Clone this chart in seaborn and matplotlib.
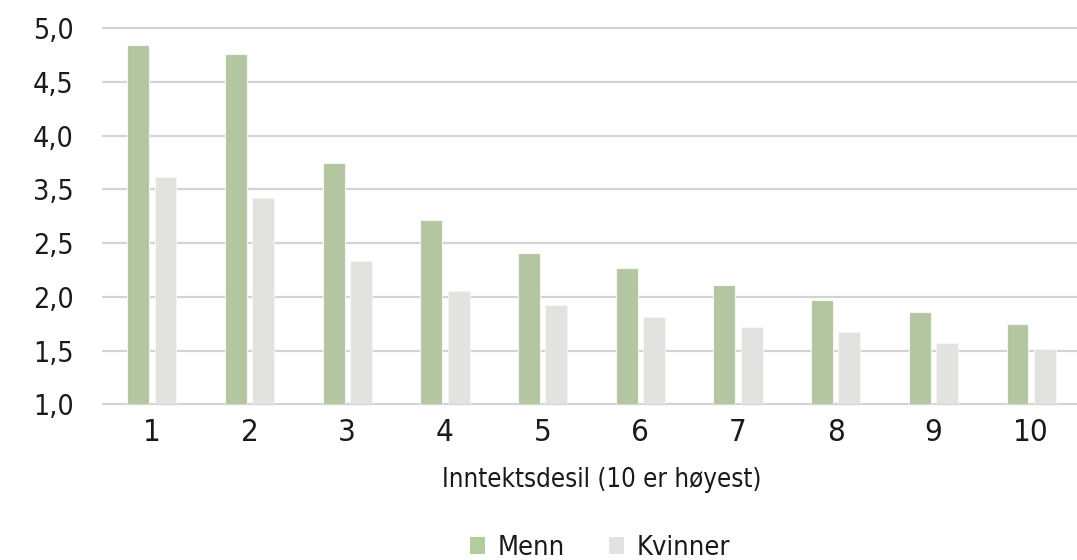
import matplotlib
matplotlib.use("Agg")
import matplotlib.pyplot as plt
import seaborn as sns
import pandas as pd
from matplotlib.patches import Patch

# Income deciles and values per group
deciles = ["1", "2", "3", "4", "5", "6", "7", "8", "9", "10"]
menn = [4.34, 4.26, 3.24, 2.71, 2.41, 2.27, 2.11, 1.97, 1.86, 1.75]
kvinner = [3.11, 2.92, 2.33, 2.05, 1.92, 1.81, 1.72, 1.67, 1.57, 1.51]
series = ["Menn", "Kvinner"]

# Y axis ticks and their printed labels
y_ticks = [1.0, 1.5, 2.0, 2.5, 3.0, 3.5, 4.0, 4.5]
y_labels = ["1,0", "1,5", "2,0", "2,5", "3,5", "4,0", "4,5", "5,0"]

colors = {"Menn": "#B3CC9B", "Kvinner": "#E2E2E1"}

df = pd.DataFrame({
    "desil": deciles * 2,
    "verdi": menn + kvinner,
    "kjonn": [series[0]] * len(deciles) + [series[1]] * len(deciles),
})

sns.set_theme(style="white")
plt.rcParams["font.family"] = ["DejaVu Sans"]
plt.rcParams["font.stretch"] = "condensed"

W, H = 1077, 560
left, right, top, bottom = 103, 1080, 28, 404.3
fig = plt.figure(figsize=(W / 100, H / 100), dpi=100)
ax = fig.add_axes([left / W, 1 - bottom / H, (right - left) / W, (bottom - top) / H])

sns.barplot(data=df, x="desil", y="verdi", hue="kjonn", order=deciles,
            hue_order=series, palette=colors, width=0.56, gap=0.2,
            edgecolor="#F4F7F0", linewidth=0.8, ax=ax, legend=False,
            zorder=3)

ax.set_ylim(1.0, 4.5)
ax.set_xlim(-0.5, 9.5)
ax.set_yticks(y_ticks)
ax.set_yticklabels(y_labels)
ax.yaxis.grid(True, color="#D3D3D3", linewidth=1.6, zorder=0)
for gl in ax.get_ygridlines():
    gl.set_clip_on(False)
ax.set_axisbelow(True)
for s in ax.spines.values():
    s.set_visible(False)

ax.tick_params(axis="y", length=0, pad=21, labelsize=20.5, labelcolor="#1a1a1a")
ax.tick_params(axis="x", length=0, pad=10, labelsize=22.5, labelcolor="#1a1a1a")
ax.set_ylabel("")
ax.set_xlabel("Inntektsdesil (10 er høyest)", fontsize=18.5, color="#1a1a1a")
ax.xaxis.set_label_coords((602 - left) / (right - left),
                          -(467 - bottom) / (bottom - top))

handles = [Patch(facecolor=colors[s], edgecolor="none", label=s) for s in series]
fig.legend(handles=handles, loc="center", bbox_to_anchor=(600 / W, 1 - 548 / H),
           ncol=2, frameon=False, fontsize=19.5, handlelength=0.55,
           handleheight=0.55, handletextpad=0.45, columnspacing=1.65,
           labelcolor="#1a1a1a")

fig.savefig("out.png", dpi=100)
